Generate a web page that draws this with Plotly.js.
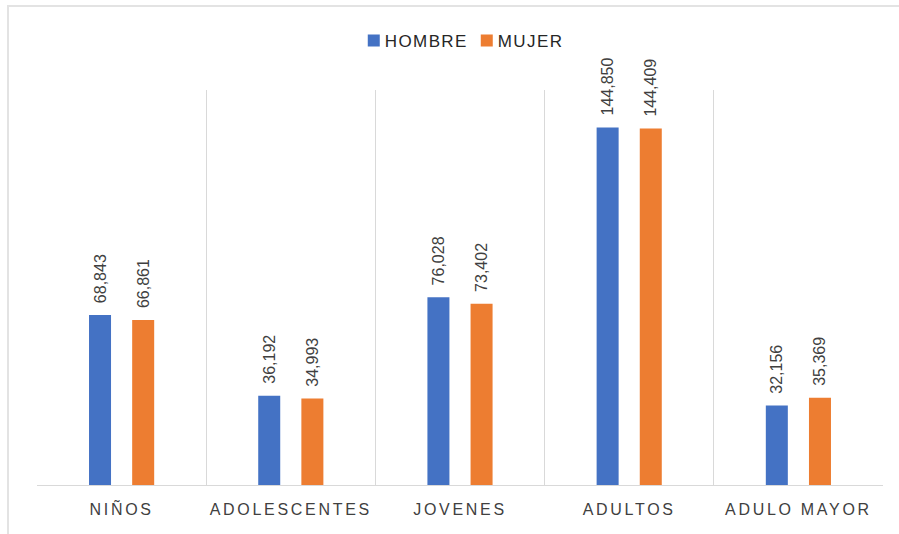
<!DOCTYPE html>
<html>
<head>
<meta charset="utf-8">
<script src="https://cdn.plot.ly/plotly-3.0.1.min.js"></script>
<style>
  html, body { margin: 0; padding: 0; background: #fff; }
  #frame { position: absolute; left: 7px; top: 5px; width: 900px; height: 540px;
           border-left: 2px solid #e3e3e3; border-top: 2px solid #e3e3e3; }
  #chart { position: absolute; left: 0; top: 0; width: 899px; height: 534px; }
  .xtick text { letter-spacing: 2.7px; }
  .legendtext { letter-spacing: 1.4px; transform: translateX(-9px); }
</style>
</head>
<body>
<div id="frame"></div>
<div id="chart"></div>
<script>
const categories = ["NIÑOS", "ADOLESCENTES", "JOVENES", "ADULTOS", "ADULO MAYOR"];
const hombre = [68843, 36192, 76028, 144850, 32156];
const mujer = [66861, 34993, 73402, 144409, 35369];
const seriesNames = ["HOMBRE", "MUJER"];

const fmt = v => "\u00A0\u00A0" + v.toLocaleString("en-US");

const labelFont = { family: "Liberation Sans, Arial, sans-serif", size: 16, color: "#404040" };

const traces = [
  { type: "bar", name: seriesNames[0], x: categories, y: hombre,
    marker: { color: "#4472C4" },
    text: hombre.map(fmt), textposition: "outside", textangle: -90,
    constraintext: "none",
    textfont: labelFont, cliponaxis: false, hoverinfo: "x+y" },
  { type: "bar", name: seriesNames[1], x: categories, y: mujer,
    marker: { color: "#ED7D31" },
    text: mujer.map(fmt), textposition: "outside", textangle: -90,
    constraintext: "none",
    textfont: labelFont, cliponaxis: false, hoverinfo: "x+y" }
];

const layout = {
  width: 899, height: 534,
  margin: { l: 37, r: 16, t: 90, b: 49 },
  paper_bgcolor: "rgba(0,0,0,0)",
  plot_bgcolor: "rgba(0,0,0,0)",
  barmode: "group",
  bargap: 0.49,
  bargroupgap: 0.49,
  showlegend: true,
  legend: {
    orientation: "h", x: 0.508, xanchor: "center", y: 1.124, yanchor: "middle",
    font: { family: "Liberation Sans, Arial, sans-serif", size: 17, color: "#262626" },
    itemwidth: 30, entrywidth: 68, traceorder: "normal"
  },
  xaxis: {
    type: "category",
    tickson: "boundaries",
    showgrid: true, gridcolor: "#d9d9d9", gridwidth: 1,
    showline: true, linecolor: "#d9d9d9", linewidth: 1,
    ticks: "", ticklen: 0,
    ticklabelstandoff: 10,
    tickfont: { family: "Liberation Sans, Arial, sans-serif", size: 16, color: "#404040" },
    fixedrange: true
  },
  yaxis: {
    range: [0, 160000],
    showgrid: false, zeroline: false, showticklabels: false, showline: false,
    fixedrange: true
  }
};

Plotly.newPlot("chart", traces, layout, { displayModeBar: false, staticPlot: true });
</script>
</body>
</html>
